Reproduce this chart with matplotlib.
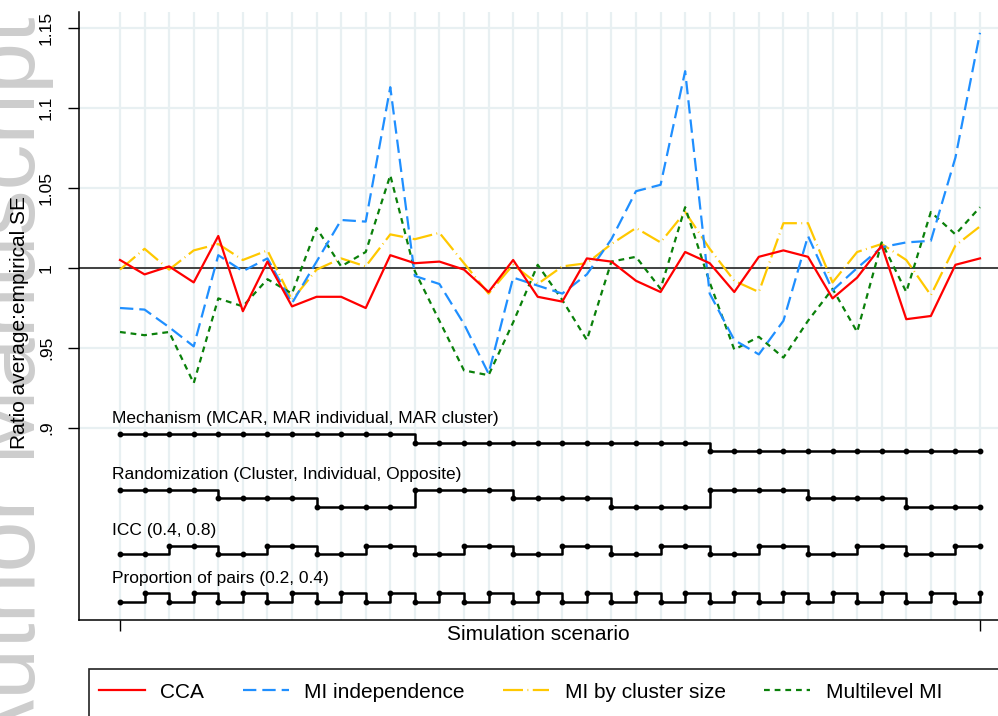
import matplotlib.pyplot as plt
from matplotlib.patches import Rectangle

plt.rcParams['font.family'] = ['Liberation Sans', 'DejaVu Sans']

# simulation scenarios 1..36
scenario = list(range(1, 37))

cca = [1.005, 0.996, 1.001, 0.991, 1.020, 0.973, 1.004, 0.976, 0.982, 0.982, 0.975, 1.008,
       1.003, 1.004, 0.999, 0.985, 1.005, 0.982, 0.979, 1.006, 1.004, 0.992, 0.985, 1.010,
       1.003, 0.985, 1.007, 1.011, 1.007, 0.981, 0.994, 1.014, 0.968, 0.970, 1.002, 1.006]
mi_indep = [0.975, 0.974, 0.963, 0.951, 1.008, 0.998, 1.006, 0.978, 1.004, 1.030, 1.029, 1.113,
            0.995, 0.990, 0.965, 0.934, 0.994, 0.989, 0.984, 0.996, 1.018, 1.048, 1.052, 1.123,
            0.984, 0.955, 0.946, 0.967, 1.020, 0.986, 1.000, 1.013, 1.016, 1.017, 1.069, 1.147]
mi_cluster = [0.999, 1.012, 0.999, 1.011, 1.015, 1.005, 1.011, 0.980, 0.999, 1.006, 1.001, 1.021,
              1.018, 1.022, 1.003, 0.984, 1.002, 0.990, 1.001, 1.003, 1.015, 1.025, 1.016, 1.035,
              1.012, 0.992, 0.985, 1.028, 1.028, 0.991, 1.010, 1.015, 1.005, 0.983, 1.014, 1.026]
multilevel = [0.960, 0.958, 0.960, 0.928, 0.981, 0.976, 0.993, 0.984, 1.025, 1.001, 1.010, 1.058,
              0.998, 0.967, 0.936, 0.933, 0.966, 1.002, 0.980, 0.955, 1.004, 1.007, 0.987, 1.038,
              0.991, 0.949, 0.957, 0.944, 0.967, 0.987, 0.960, 1.016, 0.985, 1.035, 1.021, 1.038]

# design factor levels per scenario (0 = first level)
mechanism = [0, 0, 0, 0, 0, 0, 0, 0, 0, 0, 0, 0,
             1, 1, 1, 1, 1, 1, 1, 1, 1, 1, 1, 1,
             2, 2, 2, 2, 2, 2, 2, 2, 2, 2, 2, 2]
randomization = [0, 0, 0, 0, 1, 1, 1, 1, 2, 2, 2, 2,
                 0, 0, 0, 0, 1, 1, 1, 1, 2, 2, 2, 2,
                 0, 0, 0, 0, 1, 1, 1, 1, 2, 2, 2, 2]
icc = [0, 0, 1, 1, 0, 0, 1, 1, 0, 0, 1, 1, 0, 0, 1, 1, 0, 0, 1, 1,
       0, 0, 1, 1, 0, 0, 1, 1, 0, 0, 1, 1, 0, 0, 1, 1]
pairs = [0, 1, 0, 1, 0, 1, 0, 1, 0, 1, 0, 1, 0, 1, 0, 1, 0, 1,
         0, 1, 0, 1, 0, 1, 0, 1, 0, 1, 0, 1, 0, 1, 0, 1, 0, 1]

factor_names = ['Mechanism (MCAR, MAR individual, MAR cluster)',
                'Randomization (Cluster, Individual, Opposite)',
                'ICC (0.4, 0.8)',
                'Proportion of pairs (0.2, 0.4)']

ytick_vals = [0.9, 0.95, 1, 1.05, 1.1, 1.15]
ytick_labels = ['.9', '.95', '1', '1.05', '1.1', '1.15']

W, H = 998, 716
fig = plt.figure(figsize=(W / 100, H / 100), dpi=100)
ax = fig.add_axes([79 / W, (H - 620) / H, (1021 - 79) / W, (620 - 12) / H])

grid_col = '#e8f0f2'
for s in scenario:
    ax.axvline(s, color=grid_col, lw=1.6, zorder=0)
for v in ytick_vals:
    ax.axhline(v, color=grid_col, lw=1.6, zorder=0)
ax.axhline(1, color='#333333', lw=1.3, zorder=1)

ax.plot(scenario, cca, color='#ff0000', lw=1.6, zorder=5, label='CCA')
ax.plot(scenario, mi_indep, color='#1f8fff', lw=1.6, dashes=(6, 2.7), zorder=4,
        label='MI independence')
ax.plot(scenario, mi_cluster, color='#ffc800', lw=1.6, dashes=(9, 2, 0.4, 2), zorder=3,
        label='MI by cluster size')
ax.plot(scenario, multilevel, color='#0a800a', lw=1.6, dashes=(2.6, 2.2), zorder=3,
        label='Multilevel MI')

# indicator step lines below the curves
factors = [mechanism, randomization, icc, pairs]
base_y = [0.8961, 0.8612, 0.8213, 0.7914]
step_y = [-0.00525, -0.0052, 0.0052, 0.0055]
label_y = [0.906, 0.871, 0.836, 0.806]
for f, name, b, d, ly in zip(factors, factor_names, base_y, step_y, label_y):
    yy = [b + d * lv for lv in f]
    ax.plot(scenario, yy, color='black', lw=1.8, drawstyle='steps-post',
            marker='o', markersize=3.2, zorder=6)
    ax.text(0.67, ly, name, fontsize=12.5, va='center', ha='left')

ax.set_xlim(-0.6686, 37.669)
ax.set_ylim(0.78, 1.16)
ax.set_xticks([1, 36])
ax.set_xticklabels([])
ax.set_yticks(ytick_vals)
ax.set_yticklabels(ytick_labels, rotation=90, va='center', fontsize=12.5)
ax.tick_params(axis='both', direction='out', length=8, width=1, color='black')
ax.tick_params(axis='y', pad=10)
for sp in ['top', 'right']:
    ax.spines[sp].set_visible(False)
for sp in ['left', 'bottom']:
    ax.spines[sp].set_linewidth(1.1)

ax.set_xlabel('Simulation scenario', fontsize=15)
ax.xaxis.set_label_coords((538 - 79) / 942, -0.008)
ax.set_ylabel('Ratio average:empirical SE', fontsize=15)
ax.yaxis.set_label_coords((29 - 79) / 942, 0.49)

# watermark
fig.text(35 / W, (H - 760) / H, 'Author Manuscript', rotation=90, rotation_mode='anchor',
         ha='left', va='baseline', fontsize=66, color='#cdcdcd', zorder=-5)

# legend
handles, labels = ax.get_legend_handles_labels()
fig.legend(handles, labels, loc='center left', bbox_to_anchor=(99 / W, (H - 692) / H),
           ncol=4, frameon=False, fontsize=15, borderpad=0, borderaxespad=0,
           handlelength=2.2, handletextpad=0.75, columnspacing=1.85)
fig.add_artist(Rectangle((89 / W, -0.1), (1010 - 89) / W, (H - 669) / H + 0.1,
                         transform=fig.transFigure, fill=False, ec='#222222', lw=1.2))

fig.savefig('out.png', dpi=100)
